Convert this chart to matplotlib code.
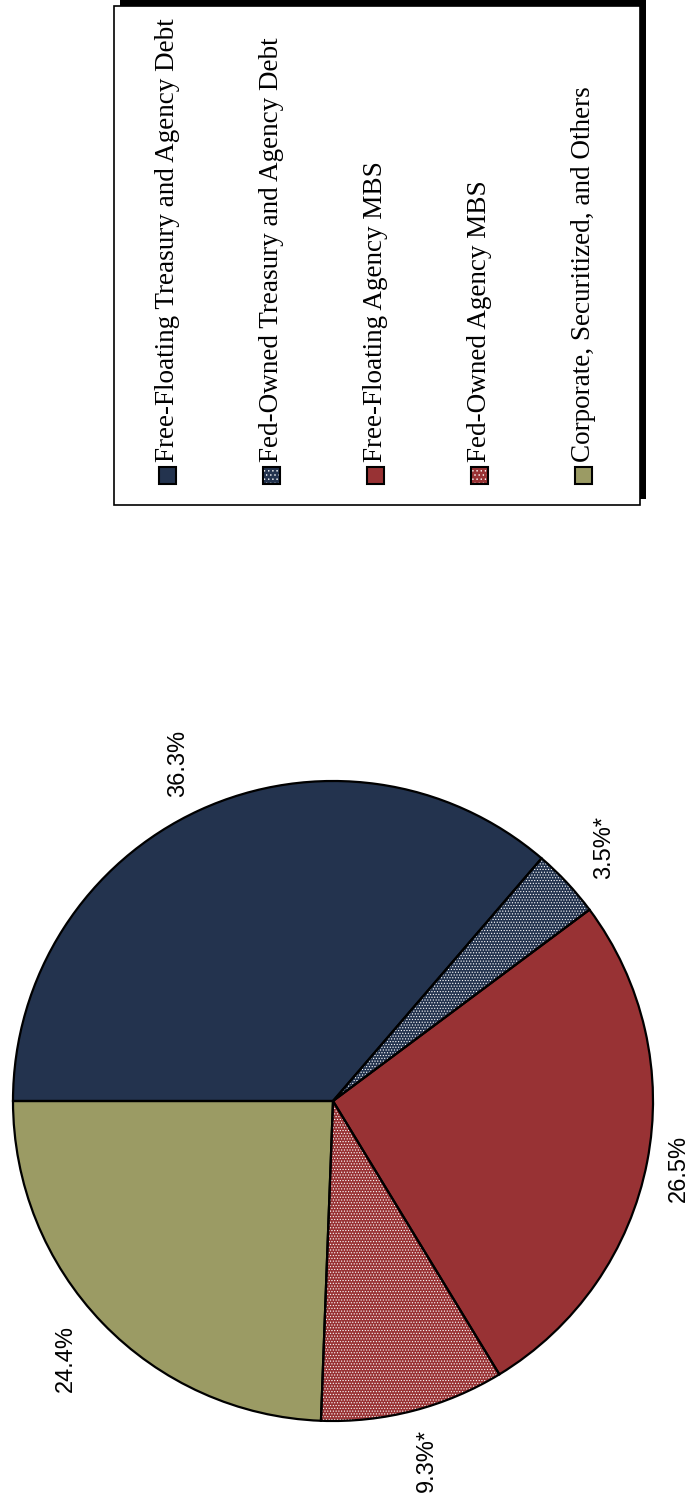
import matplotlib
matplotlib.use("Agg")
import matplotlib.pyplot as plt
from matplotlib.patches import Rectangle
import numpy as np

# Holdings of fixed income securities, share of total (%)
categories = ["Free-Floating Treasury and Agency Debt",
              "Fed-Owned Treasury and Agency Debt",
              "Free-Floating Agency MBS",
              "Fed-Owned Agency MBS",
              "Corporate, Securitized, and Others"]
shares = [36.3, 3.5, 26.5, 9.3, 24.4]
pct_labels = ["36.3%", "3.5%*", "26.5%", "9.3%*", "24.4%"]

colors = ["#23334e", "#23334e", "#983234", "#983234", "#9b9b64"]
dotted = [False, True, False, True, False]

plt.rcParams["hatch.linewidth"] = 0.5
W, H = 689, 1494
fig = plt.figure(figsize=(W / 100, H / 100), dpi=100)

# pie axes, centre (333, 1101) px, radius 320 px
cx, cy, r = 333, 1101, 320
ax = fig.add_axes([(cx - r) / W, (H - cy - r) / H, 2 * r / W, 2 * r / H])
ax.set_aspect("equal")

# fill layer (white dot hatch on the Fed-owned slices)
wedges, _ = ax.pie(shares, colors=colors, startangle=180, counterclock=False,
                   radius=1, wedgeprops=dict(linewidth=0, edgecolor="white"))
for w, d in zip(wedges, dotted):
    if d:
        w.set_hatch("......")
    else:
        w.set_edgecolor(w.get_facecolor())

# outline layer
ax.pie(shares, colors=["none"] * 5, startangle=180, counterclock=False,
       radius=1, wedgeprops=dict(linewidth=1.6, edgecolor="black"))

# percentage labels, rotated with the page
label_dist = [1.16, 1.16, 1.10, 1.16, 1.16]
angle = 180.0
for val, lab, dist in zip(shares, pct_labels, label_dist):
    span = val / 100 * 360
    mid = np.deg2rad(angle - span / 2)
    angle -= span
    ax.text(dist * np.cos(mid), dist * np.sin(mid), lab, rotation=90,
            ha="center", va="center", fontsize=17,
            family=["Liberation Sans Narrow", "Liberation Sans"], clip_on=False)
ax.set_xlim(-1, 1)
ax.set_ylim(-1, 1)
ax.axis("off")

# legend panel in pixel coordinates
lax = fig.add_axes([0, 0, 1, 1])
lax.set_xlim(0, W)
lax.set_ylim(H, 0)
lax.axis("off")
lax.add_patch(Rectangle((120, 0), 526, 499, facecolor="black", edgecolor="none"))
lax.add_patch(Rectangle((114, 6), 526, 499, facecolor="white", edgecolor="black", linewidth=1.2))

col_x = [167, 271, 375, 479, 583]
for x, name, c, d in zip(col_x, categories, colors, dotted):
    sq = Rectangle((x - 8.5, 467), 17, 17, facecolor=c,
                   edgecolor="white" if d else "black", linewidth=0,
                   hatch="...." if d else None)
    lax.add_patch(sq)
    lax.add_patch(Rectangle((x - 8.5, 467), 17, 17, facecolor="none",
                            edgecolor="black", linewidth=1.5))
    lax.text(x + 1, 462, name, rotation=90, ha="center", va="bottom",
             fontsize=19.5, family="Liberation Serif")

fig.savefig("out.png", dpi=100)
